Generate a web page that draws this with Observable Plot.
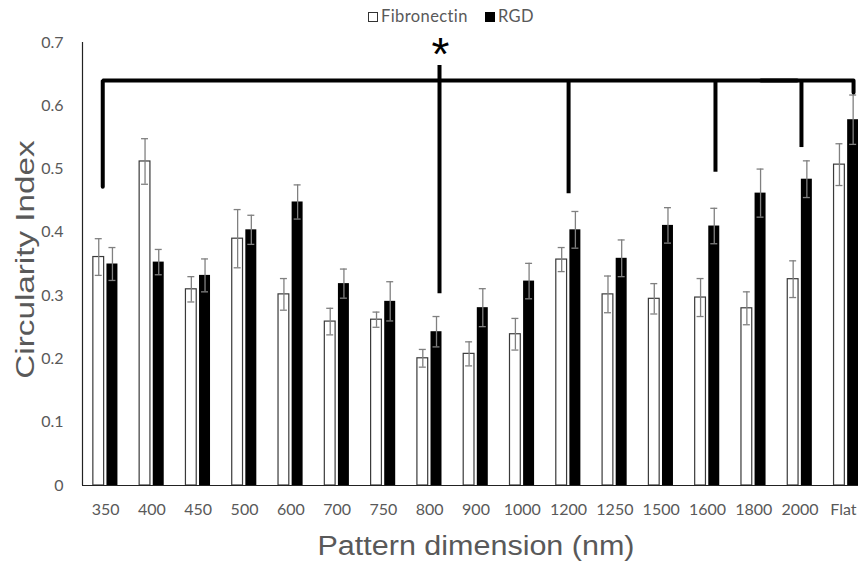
<!DOCTYPE html>
<html>
<head>
<meta charset="utf-8">
<script src="https://cdn.jsdelivr.net/npm/d3@7"></script>
<script src="https://cdn.jsdelivr.net/npm/@observablehq/plot@0.6"></script>
<style>
  body { margin: 0; background: #fff; }
  #legend { position: relative; height: 30px; width: 858px; font-family: Lato, sans-serif; font-size: 16.5px; letter-spacing: 0.4px; color: #595959; }
  .sw { position: absolute; top: 12px; width: 8px; height: 8px; box-sizing: content-box; }
  .lb { position: absolute; top: 6px; line-height: 20px; white-space: nowrap; }
</style>
</head>
<body>
<div id="legend"></div>
<div id="chart"></div>
<script>
// ---------- data ----------
const categories = ["350","400","450","500","600","700","750","800","900","1000","1200","1250","1500","1600","1800","2000","Flat"];
const fibronectin      = [0.361, 0.512, 0.310, 0.390, 0.302, 0.259, 0.262, 0.201, 0.208, 0.239, 0.357, 0.302, 0.295, 0.297, 0.280, 0.326, 0.507];
const fibronectinError = [0.029, 0.036, 0.020, 0.046, 0.025, 0.021, 0.012, 0.014, 0.019, 0.025, 0.019, 0.029, 0.024, 0.030, 0.026, 0.029, 0.033];
const rgd              = [0.350, 0.353, 0.332, 0.404, 0.448, 0.319, 0.291, 0.243, 0.281, 0.323, 0.404, 0.359, 0.411, 0.410, 0.462, 0.484, 0.578];
const rgdError         = [0.026, 0.020, 0.026, 0.023, 0.027, 0.023, 0.031, 0.024, 0.030, 0.028, 0.029, 0.029, 0.028, 0.028, 0.038, 0.029, 0.039];
const seriesNames = ["Fibronectin", "RGD"];
const yTicks = [0, 0.1, 0.2, 0.3, 0.4, 0.5, 0.6, 0.7];
const xTitle = "Pattern dimension (nm)";
const yTitle = "Circularity Index";
// significance bracket
const bracketCategories = ["350", "800", "1200", "1600", "2000", "Flat"];
const bracketTops       = [0.640, 0.6635, 0.640, 0.640, 0.640, 0.640];
const bracketBottoms    = [0.472, 0.303, 0.461, 0.495, 0.534, 0.621];
const starLabels = ["*"];
const starCategories = ["800"];
const starValues = [0.680];

// ---------- tables ----------
const fibRows = categories.map((c, i) => ({cat: c, v: fibronectin[i], e: fibronectinError[i]}));
const rgdRows = categories.map((c, i) => ({cat: c, v: rgd[i], e: rgdError[i]}));

// ---------- legend ----------
const legend = document.getElementById("legend");
legend.innerHTML = `
  <div class="sw" style="left:368px;border:1.3px solid #333;background:#fff"></div>
  <div class="lb" style="left:381px">${seriesNames[0]}</div>
  <div class="sw" style="left:485px;border:1.3px solid #000;background:#000"></div>
  <div class="lb" style="left:498px">${seriesNames[1]}</div>`;

// ---------- styles ----------
const bracketDx = [-2.9, 9.8, 0, 8, 1.4, 7.2];
const errStroke = "#808080";
const bk = 4;
const tickFont = {fontSize: 16, fontFamily: "Lato", fill: "#595959"};

const marks = [
  Plot.barY(fibRows, {x: "cat", y: "v", fill: "white", stroke: "#3a3a3a", strokeWidth: 1.2, insetLeft: 10.85, insetRight: 24.66}),
  Plot.barY(rgdRows, {x: "cat", y: "v", fill: "black", insetLeft: 24.45, insetRight: 10.86}),
  // error bars
  Plot.ruleX(fibRows, {x: "cat", y1: d => d.v - d.e, y2: d => d.v + d.e, dx: -6.9, stroke: errStroke, strokeWidth: 1.3}),
  Plot.tickY(fibRows, {x: "cat", y: d => d.v + d.e, insetLeft: 12.75, insetRight: 26.56, stroke: errStroke, strokeWidth: 1.3}),
  Plot.tickY(fibRows, {x: "cat", y: d => d.v - d.e, insetLeft: 12.75, insetRight: 26.56, stroke: errStroke, strokeWidth: 1.3}),
  Plot.ruleX(rgdRows, {x: "cat", y1: d => d.v - d.e, y2: d => d.v + d.e, dx: 6.8, stroke: errStroke, strokeWidth: 1.3}),
  Plot.tickY(rgdRows, {x: "cat", y: d => d.v + d.e, insetLeft: 26.45, insetRight: 12.86, stroke: errStroke, strokeWidth: 1.3}),
  Plot.tickY(rgdRows, {x: "cat", y: d => d.v - d.e, insetLeft: 26.45, insetRight: 12.86, stroke: errStroke, strokeWidth: 1.3}),
  // axes lines
  Plot.ruleY([0], {stroke: "#222", strokeWidth: 1.2}),
  Plot.ruleX([categories[0]], {y1: 0, y2: 0.7, dx: -787 / 17 / 2, stroke: "#222", strokeWidth: 1.2}),
  // bracket: left L and right corner
  Plot.line([
    {cat: bracketCategories[0], y: bracketBottoms[0]},
    {cat: bracketCategories[0], y: bracketTops[0]},
    {cat: bracketCategories[4], y: bracketTops[0]}
  ], {x: "cat", y: "y", dx: bracketDx[0], stroke: "black", strokeWidth: bk, strokeLinejoin: "miter"}),
  Plot.line([
    {cat: "1800", y: bracketTops[5]},
    {cat: bracketCategories[5], y: bracketTops[5]},
    {cat: bracketCategories[5], y: bracketBottoms[5]}
  ], {x: "cat", y: "y", dx: bracketDx[5], stroke: "black", strokeWidth: bk, strokeLinejoin: "round"}),
  ...[1, 2, 3, 4].map(i => Plot.ruleX([{cat: bracketCategories[i], y1: bracketBottoms[i], y2: bracketTops[i]}],
    {x: "cat", y1: "y1", y2: "y2", dx: bracketDx[i], stroke: "black", strokeWidth: bk})),
  Plot.text(starLabels.map((s, i) => ({s, cat: starCategories[i], y: starValues[i]})),
    {x: "cat", y: "y", text: "s", dx: 10.8, fontSize: 46, fontFamily: "Liberation Sans", fill: "black"}),
  // axes
  Plot.axisY({ticks: yTicks, tickSize: 0, tickPadding: 19, label: null,
    tickFormat: d => d === 0 ? "0" : d.toFixed(1), ...tickFont}),
  Plot.axisX({ticks: categories.slice(0, -1), tickSize: 0, tickPadding: 18.5, label: null, ...tickFont}),
  Plot.axisX({ticks: categories.slice(-1), tickSize: 0, tickPadding: 18.5, label: null, dx: -3, ...tickFont}),
  // titles
  Plot.text([yTitle], {frameAnchor: "left", textAnchor: "middle", lineAnchor: "middle", rotate: -90, dx: -57, dy: -4.5, fontSize: 25,
    fontFamily: "Liberation Sans", fill: "#595959"}),
  Plot.text([xTitle], {frameAnchor: "bottom", textAnchor: "middle", lineAnchor: "middle", dx: 5.5, dy: 61, fontSize: 28,
    fontFamily: "Liberation Sans", fill: "#595959"})
];

const chart = Plot.plot({
  width: 858,
  height: 535,
  marginTop: 12,
  marginBottom: 80,
  marginLeft: 82,
  marginRight: 0,
  style: {fontFamily: "Lato", fontSize: "16px", color: "#595959", background: "white", overflow: "visible"},
  x: {domain: categories, range: [82, 869], padding: 0, round: false, axis: null},
  y: {domain: [0, 0.7], axis: null},
  marks
});
document.getElementById("chart").appendChild(chart);

function stretch(sel, sx, sy) {
  sel.each(function () {
    const t = this.getAttribute("transform");
    if (t) this.setAttribute("transform", t + ` scale(${sx},${sy})`);
    else {
      const x = parseFloat(this.getAttribute("x")) || 0, y = parseFloat(this.getAttribute("y")) || 0;
      this.removeAttribute("x"); this.removeAttribute("y");
      this.setAttribute("transform", `translate(${x},${y}) scale(${sx},${sy})`);
    }
  });
}
const svg = d3.select(chart);
const byText = s => svg.selectAll("text").filter(function () { return this.textContent === s; });
stretch(byText(yTitle), 1.33, 1);
stretch(byText(xTitle), 1.09, 1);
</script>
</body>
</html>
